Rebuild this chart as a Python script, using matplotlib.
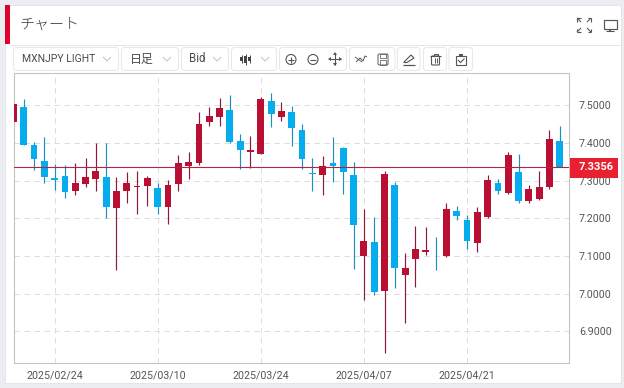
import matplotlib
matplotlib.use("Agg")
import matplotlib.pyplot as plt
from matplotlib.patches import FancyBboxPatch, Rectangle, Circle, Polygon

plt.rcParams['font.family'] = ['Roboto', 'Noto Sans CJK JP', 'DejaVu Sans']

# Bar index 0 is 2025/02/24; candles are daily (weekdays)
index = list(range(-4, 50))
high = [7.503, 7.516, 7.402, 7.417, 7.344, 7.341, 7.346, 7.359, 7.399, 7.399,
        7.310, 7.322, 7.327, 7.313, 7.295, 7.302, 7.367, 7.375, 7.483, 7.495,
        7.519, 7.527, 7.423, 7.420, 7.521, 7.532, 7.508, 7.499, 7.450, 7.361,
        7.365, 7.415, 7.390, 7.351, 7.225, 7.203, 7.325, 7.297, 7.109, 7.179,
        7.176, 7.150, 7.241, 7.234, 7.210, 7.231, 7.314, 7.304, 7.375, 7.370,
        7.288, 7.325, 7.434, 7.444]
low = [7.456, 7.396, 7.328, 7.293, 7.275, 7.253, 7.261, 7.282, 7.274, 7.200,
       7.062, 7.240, 7.211, 7.232, 7.211, 7.184, 7.274, 7.304, 7.341, 7.444,
       7.444, 7.399, 7.330, 7.335, 7.372, 7.442, 7.459, 7.391, 7.330, 7.272,
       7.261, 7.296, 7.266, 7.065, 6.982, 6.996, 6.842, 7.014, 6.921, 7.017,
       7.102, 7.062, 7.097, 7.197, 7.118, 7.112, 7.200, 7.264, 7.266, 7.242,
       7.242, 7.250, 7.277, 7.336]
body_top = [7.503, 7.496, 7.396, 7.353, 7.307, 7.312, 7.294, 7.311, 7.326, 7.310,
            7.274, 7.293, 7.286, 7.308, 7.280, 7.288, 7.346, 7.351, 7.451, 7.472,
            7.492, 7.487, 7.406, 7.381, 7.518, 7.512, 7.485, 7.482, 7.434, 7.320,
            7.340, 7.347, 7.386, 7.316, 7.140, 7.136, 7.318, 7.288, 7.067, 7.120,
            7.115, 7.125, 7.224, 7.219, 7.195, 7.217, 7.302, 7.295, 7.367, 7.323,
            7.278, 7.284, 7.411, 7.406]
body_bottom = [7.456, 7.396, 7.358, 7.309, 7.302, 7.271, 7.272, 7.290, 7.304, 7.231,
               7.227, 7.273, 7.283, 7.285, 7.230, 7.230, 7.290, 7.340, 7.346, 7.455,
               7.470, 7.402, 7.381, 7.377, 7.372, 7.478, 7.470, 7.439, 7.357, 7.318,
               7.315, 7.339, 7.324, 7.183, 7.101, 7.004, 7.006, 7.068, 7.050, 7.092,
               7.110, 7.123, 7.100, 7.207, 7.140, 7.134, 7.203, 7.272, 7.267, 7.247,
               7.246, 7.252, 7.283, 7.336]
rising = [1, 0, 0, 0, 0, 0, 1, 1, 1, 0,
          1, 1, 1, 1, 0, 1, 1, 1, 1, 1,
          1, 0, 0, 1, 1, 0, 1, 0, 0, 0,
          1, 0, 0, 0, 1, 0, 1, 0, 1, 1,
          1, 0, 1, 0, 0, 1, 1, 0, 1, 0,
          1, 1, 1, 0]
current_price = 7.3356
price_ticks = [7.5, 7.4, 7.3, 7.2, 7.1, 7.0, 6.9]
date_positions = [0, 10, 20, 30, 40]
date_labels = ['2025/02/24', '2025/03/10', '2025/03/24', '2025/04/07', '2025/04/21']

W, H = 624, 388
fig = plt.figure(figsize=(W / 100, H / 100), dpi=100, facecolor='#ebedf0')

# Pixel-space overlay for the page furniture
ui = fig.add_axes([0, 0, 1, 1], zorder=0)
ui.set_xlim(0, W)
ui.set_ylim(H, 0)
ui.axis('off')

TXT = '#4a4a4a'
ICON = '#555555'
BORDER = '#e6e8ea'


def line(xs, ys, color=ICON, lw=0.8):
    ui.plot(xs, ys, color=color, lw=lw, solid_capstyle='butt', zorder=5)


def button(x0, x1, y0=47.5, y1=70.5):
    ui.add_patch(FancyBboxPatch((x0 + 2, y0 + 2), x1 - x0 - 4, y1 - y0 - 4,
                                boxstyle='round,pad=2,rounding_size=3',
                                fc='white', ec=BORDER, lw=0.75, zorder=3))


def chevron(cx, cy=59):
    line([cx - 4, cx, cx + 4], [cy - 2, cy + 2, cy - 2], color='#bcbfc2', lw=0.7)


ui.add_patch(Rectangle((5, 5), 615.5, 378, fc='white', ec='#e3e5e8', lw=0.72, zorder=1))
ui.add_patch(Rectangle((5, 5), 5, 39, fc='#e0002d', ec='none', zorder=2))
line([10, 620], [44.5, 44.5], color='#e3e5e8', lw=0.72)
ui.text(20, 24.5, 'チャート', fontsize=10.8, color='#3a3a3a', va='center', ha='left',
        family=['Noto Sans CJK JP', 'DejaVu Sans'], zorder=5, fontweight='light')

# Toolbar
for a, b in [(13.5, 118.5), (121.5, 178.5), (181.5, 228.5), (231.5, 276.5),
             (279.5, 346.5), (349.5, 395), (397.5, 420), (423.5, 446.5), (449, 472.5)]:
    button(a, b)
ui.text(22.5, 59, 'MXNJPY LIGHT', fontsize=7.5, color=TXT, va='center', ha='left', zorder=5)
ui.text(130, 59, '日足', fontsize=8.6, color=TXT, va='center', ha='left',
        family=['Noto Sans CJK JP', 'DejaVu Sans'], zorder=5)
ui.text(188.5, 59, 'Bid', fontsize=8.3, color=TXT, va='center', ha='left', zorder=5)
for cx in [107, 167, 217, 265]:
    chevron(cx)

# Candlestick icon
for cx, t, b in [(241.5, 55, 63), (245.5, 54, 65), (249.5, 55, 63)]:
    line([cx, cx], [t, b], color='#444444', lw=0.7)
    ui.add_patch(Rectangle((cx - 1.2, t + 2), 2.4, b - t - 4, fc='#444444', ec='none', zorder=5))

# Zoom in / out
for cx, plus in [(291, True), (313, False)]:
    ui.add_patch(Circle((cx, 59.5), 5, fc='none', ec=ICON, lw=0.8, zorder=5))
    line([cx - 3, cx + 3], [59.5, 59.5])
    if plus:
        line([cx, cx], [56.5, 62.5])

# Move
line([329, 341], [59, 59])
line([335, 335], [53, 65])
for pts in [[(335, 52), (333, 55), (337, 55)], [(335, 66), (333, 63), (337, 63)],
            [(328, 59), (331, 57), (331, 61)], [(342, 59), (339, 57), (339, 61)]]:
    ui.add_patch(Polygon(pts, fc=ICON, ec='none', zorder=5))

# Compare / link icon
line([356, 360, 363, 365, 367], [62, 58, 61, 56, 57], lw=0.7)
line([355, 362], [57, 62], lw=0.6)

# Save
ui.add_patch(FancyBboxPatch((378, 54), 10, 11, boxstyle='round,pad=0,rounding_size=1.5',
                            fc='none', ec='#666666', lw=0.75, zorder=5))
ui.add_patch(Rectangle((380, 54), 6, 3.5, fc='none', ec='#666666', lw=0.6, zorder=5))
ui.add_patch(Rectangle((380, 60), 6, 5, fc='none', ec='#666666', lw=0.6, zorder=5))

# Pencil
line([404, 411, 414, 407, 404, 404], [62, 55, 58, 62.5, 62.5, 62])
line([403, 415], [65, 65], lw=0.9)

# Trash
line([430, 441], [55.5, 55.5])
line([433.5, 433.5, 437.5, 437.5], [55.5, 53.5, 53.5, 55.5], lw=0.7)
ui.add_patch(FancyBboxPatch((431.5, 56), 8, 9, boxstyle='round,pad=0,rounding_size=1',
                            fc='none', ec=ICON, lw=0.8, zorder=5))
line([434.5, 434.5], [58, 63], lw=0.7)
line([436.5, 436.5], [58, 63], lw=0.7)

# Clipboard with check
ui.add_patch(Rectangle((456, 55.5), 10, 9.5, fc='none', ec=ICON, lw=0.8, zorder=5))
ui.add_patch(Rectangle((459, 53.5), 4, 2.5, fc=ICON, ec='none', zorder=5))
line([458, 460.5, 464.5], [60, 62.5, 58.5], lw=0.8)

# Full-screen icon
for x, y, dx, dy in [(577, 18, 1, 1), (591, 18, -1, 1), (577, 32, 1, -1), (591, 32, -1, -1)]:
    line([x, x + 4 * dx], [y, y + 4 * dy])
    line([x, x + 3.5 * dx], [y, y])
    line([x, x], [y, y + 3.5 * dy])

# Monitor icon
ui.add_patch(Rectangle((603.5, 19.5), 13, 9.5, fc='none', ec=ICON, lw=0.85, zorder=5))
line([610, 610], [29, 31], lw=1.3)
line([606, 614], [31, 31], lw=0.8)

# Chart
ax = fig.add_axes([13.5 / W, 1 - 363 / H, 555 / W, 290 / H], zorder=2)
ax.set_facecolor('white')
ax.set_xlim((13.5 - 54.6) / 10.31, (568.5 - 54.6) / 10.31)
ax.set_ylim(6.816, 7.586)
for s in ax.spines.values():
    s.set_color('#c2c2c2')
    s.set_linewidth(0.75)
ax.set_axisbelow(True)
ax.grid(True, color='#dddddd', lw=0.72, ls=(0, (5.5, 4.5)))
ax.set_xticks(date_positions, date_labels)
ax.set_yticks(price_ticks, [f'{p:.4f}' for p in price_ticks])
ax.yaxis.tick_right()
ax.tick_params(axis='both', length=0, labelsize=7.7, labelcolor='#555555')
ax.tick_params(axis='x', pad=5.5)
ax.tick_params(axis='y', pad=7.5)

RED, BLUE = '#b90f32', '#06adee'
RED_W, BLUE_W = '#8d1a3b', '#1c8fc4'
for i, h, l, t, b, r in zip(index, high, low, body_top, body_bottom, rising):
    ax.vlines(i, l, h, color=RED_W if r else BLUE_W, lw=0.85, zorder=3)
    ax.bar(i, t - b, bottom=b, width=0.66, color=RED if r else BLUE,
           edgecolor='none', zorder=4)

ax.axhline(current_price, color='#b5233f', lw=0.8, zorder=5)

# Current price tag sits over the tick labels
ui2 = fig.add_axes([0, 0, 1, 1], zorder=3)
ui2.set_xlim(0, W)
ui2.set_ylim(H, 0)
ui2.axis('off')
ui2.patch.set_alpha(0)
ui2.add_patch(Rectangle((569.5, 157.5), 48.5, 20, fc='#e8202f', ec='none'))
ui2.text(596, 167.5, f'{current_price:.4f}', color='white', fontsize=8.0,
         fontweight='bold', ha='center', va='center')

fig.savefig('out.png', dpi=100, facecolor=fig.get_facecolor())
